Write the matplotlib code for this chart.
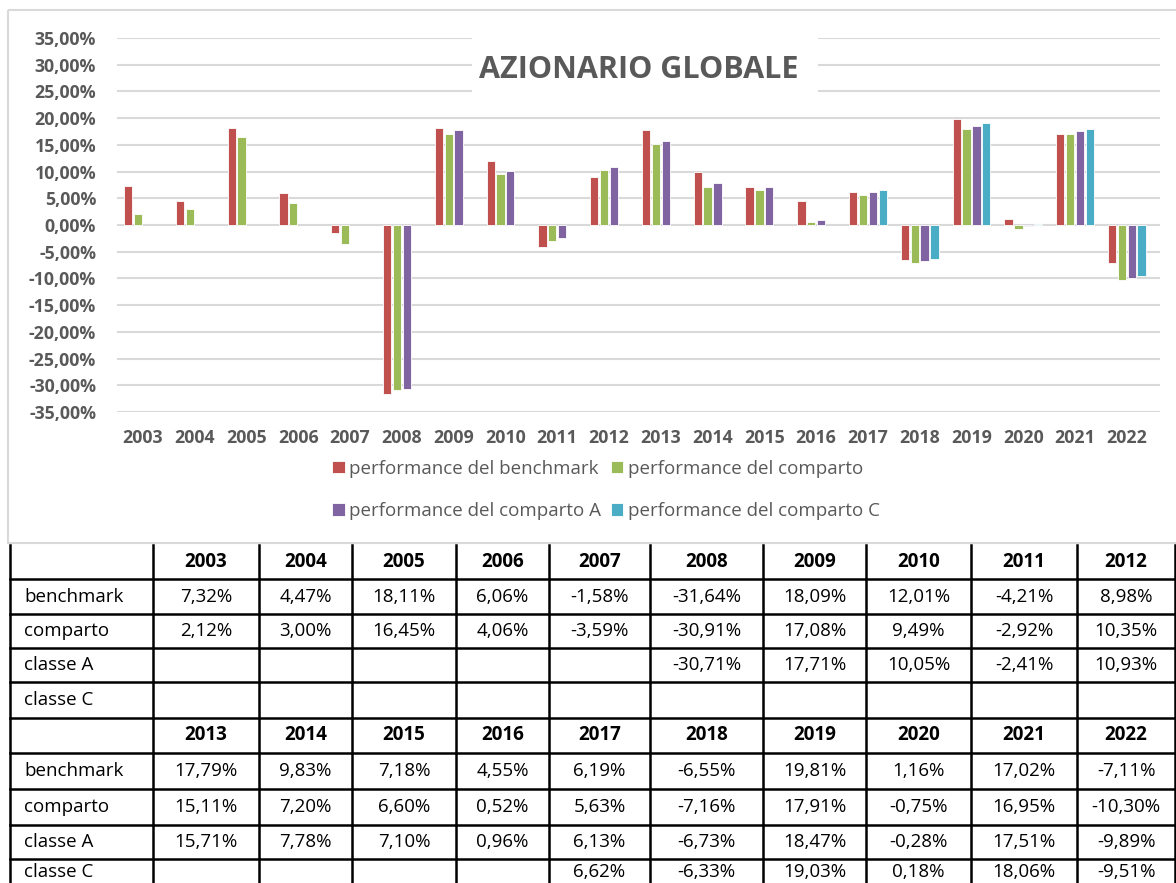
import numpy as np
import matplotlib
matplotlib.use('Agg')
import matplotlib.pyplot as plt
from matplotlib.patches import Rectangle
from matplotlib.ticker import FuncFormatter

plt.rcParams['font.family'] = ['Open Sans', 'DejaVu Sans']

years = list(range(2003, 2023))
benchmark = [7.32, 4.47, 18.11, 6.06, -1.58, -31.64, 18.09, 12.01, -4.21, 8.98,
             17.79, 9.83, 7.18, 4.55, 6.19, -6.55, 19.81, 1.16, 17.02, -7.11]
comparto = [2.12, 3.00, 16.45, 4.06, -3.59, -30.91, 17.08, 9.49, -2.92, 10.35,
            15.11, 7.20, 6.60, 0.52, 5.63, -7.16, 17.91, -0.75, 16.95, -10.30]
classe_a = [None, None, None, None, None, -30.71, 17.71, 10.05, -2.41, 10.93,
            15.71, 7.78, 7.10, 0.96, 6.13, -6.73, 18.47, -0.28, 17.51, -9.89]
classe_c = [None] * 14 + [6.62, -6.33, 19.03, 0.18, 18.06, -9.51]

series = [benchmark, comparto, classe_a, classe_c]
legend_labels = ['performance del benchmark', 'performance del comparto',
                 'performance del comparto A', 'performance del comparto C']
row_labels = ['benchmark', 'comparto', 'classe A', 'classe C']
colors = ['#C0504D', '#9BBB59', '#8064A2', '#4BACC6']
gray = '#595959'

W, H = 1176, 883
fig = plt.figure(figsize=(W / 100, H / 100), dpi=100)

# overlay axes in pixel coordinates for frame and table
bg = fig.add_axes([0, 0, 1, 1])
bg.set_xlim(0, W)
bg.set_ylim(H, 0)
bg.axis('off')
bg.add_patch(Rectangle((8, 10), W + 10, 533, fill=False, ec='#D9D9D9', lw=1.5))

# bar chart axes
x0, x1, ytop, ybot = 117, 1160, 38, 412
ax = fig.add_axes([x0 / W, 1 - ybot / H, (x1 - x0) / W, (ybot - ytop) / H])
x = np.arange(len(years))
step = 0.19
for i, (vals, c, lab) in enumerate(zip(series, colors, legend_labels)):
    v = np.array([np.nan if s is None else s for s in vals])
    ax.bar(x + (i - 1.5) * step, v, width=0.16, color=c, edgecolor='white',
           linewidth=0.6, label=lab, zorder=3)
ax.set_ylim(-35, 35)
ax.set_xlim(-0.5, 19.64)
ax.set_yticks(np.arange(-35, 36, 5))
ax.yaxis.set_major_formatter(FuncFormatter(lambda v, p: f'{v:.2f}%'.replace('.', ',')))
ax.set_xticks(x)
ax.set_xticklabels([str(y) for y in years])
ax.grid(axis='y', color='#D9D9D9', lw=1.5, zorder=0)
for s in ax.spines.values():
    s.set_visible(False)
ax.tick_params(length=0, colors=gray, labelsize=12.8)
ax.tick_params(axis='y', pad=15)
ax.tick_params(axis='x', pad=12)
for t in ax.get_xticklabels() + ax.get_yticklabels():
    t.set_fontweight('bold')

# white band behind the title, hiding the gridlines
ax.add_patch(Rectangle((472, 32), 346, 66, transform=bg.transData, fc='white',
                       ec='none', zorder=4))
ax.text(0.5, 1 - (70 - ytop) / (ybot - ytop), 'AZIONARIO GLOBALE', transform=ax.transAxes,
        ha='center', va='center', fontsize=22, fontweight='bold', color=gray, zorder=5)

h, l = ax.get_legend_handles_labels()
order = [0, 2, 1, 3]
leg = fig.legend([h[k] for k in order], [l[k] for k in order], ncol=2,
                 loc='center', bbox_to_anchor=(606 / W, 1 - 490 / H), frameon=False,
                 fontsize=13.5, labelcolor=gray, handlelength=0.65, handleheight=0.65,
                 handletextpad=0.25, columnspacing=0.5, labelspacing=1.3)

# data table
col_edges = [10, 153, 259, 352, 456, 549, 650, 763, 866, 971, 1077, 1175]
row_edges = [545, 579, 614, 648, 682, 718, 753, 789, 825, 859, 895]


def fmt(v):
    return '' if v is None else f'{v:.2f}%'.replace('.', ',')


def row_center(r):
    cy = (row_edges[r] + row_edges[r + 1]) / 2
    # last row is cut by the image edge
    return min(cy, (row_edges[r] + H) / 2 + 1)


fs = 13.5
for blk in range(2):
    r0 = blk * 5
    yrs = years[blk * 10:(blk + 1) * 10]
    for j, yv in enumerate(yrs):
        cx = (col_edges[j + 1] + col_edges[j + 2]) / 2
        bg.text(cx, row_center(r0), str(yv), ha='center', va='center', fontsize=fs,
                fontweight='bold', color='black')
    for k, (name, vals) in enumerate(zip(row_labels, series)):
        cy = row_center(r0 + k + 1)
        bg.text(24, cy, name, ha='left', va='center', fontsize=fs, color='black')
        for j in range(10):
            cx = (col_edges[j + 1] + col_edges[j + 2]) / 2
            bg.text(cx, cy, fmt(vals[blk * 10 + j]), ha='center', va='center',
                    fontsize=fs, color='black')

for xe in col_edges:
    bg.plot([xe, xe], [545, H], color='black', lw=1.8)
for ye in row_edges[1:-1]:
    bg.plot([col_edges[0], col_edges[-1]], [ye, ye], color='black', lw=1.8)

fig.savefig('out.png', dpi=100)
